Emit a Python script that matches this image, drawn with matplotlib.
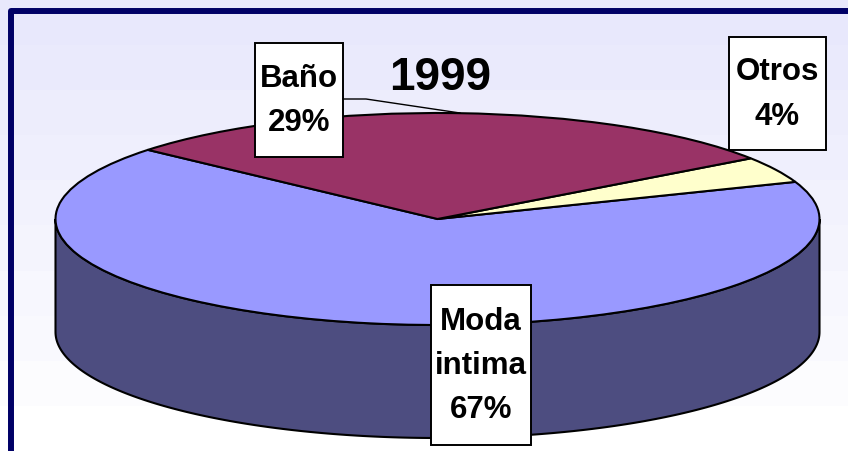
import numpy as np
import matplotlib
matplotlib.use('Agg')
import matplotlib.pyplot as plt
from matplotlib.patches import Rectangle

title = '1999'
labels = ['Moda\nintima\n67%', 'Otros\n4%', 'Baño\n29%']
values = [67, 4, 29]
colors = ['#9999FF', '#FFFFCC', '#993366']

plt.rcParams['font.family'] = ['Liberation Sans', 'DejaVu Sans']

W, H = 848, 451
fig = plt.figure(figsize=(W / 100, H / 100), dpi=100)

# background bands and frame, in pixel coordinates
bg = fig.add_axes([0, 0, 1, 1], zorder=0)
bands = np.linspace(0, 1, 10).reshape(-1, 1)
cmap = matplotlib.colors.LinearSegmentedColormap.from_list('bg', ['#E8E8FC', '#FFFFFF'])
bg.imshow(bands, cmap=cmap, aspect='auto', extent=[0, W, H, 0], interpolation='nearest')
bg.plot([11, 11, W], [H, 11, 11], color='#000066', lw=4.3, solid_joinstyle='round')
bg.set_xlim(0, W)
bg.set_ylim(H, 0)
bg.axis('off')

# pie axes: the unit circle fills the top ellipse of the disc
cx, cy, a, b = 437.5, 219, 382, 106
depth = 113 / b
ax = fig.add_axes([(cx - a) / W, 1 - (cy + b) / H, 2 * a / W, 2 * b / H], zorder=1)
start = 139.3
theta = np.radians(np.linspace(180, 360, 200))
wall_x = np.r_[np.cos(theta), np.cos(theta[::-1])]
wall_y = np.r_[np.sin(theta), np.sin(theta[::-1]) - depth]
ax.fill(wall_x, wall_y, facecolor='#4D4D80', edgecolor='black', lw=1.5, clip_on=False, zorder=0)
wedges, _ = ax.pie(values, colors=colors, startangle=start, radius=1,
                   wedgeprops={'edgecolor': 'black', 'linewidth': 1.5, 'clip_on': False, 'zorder': 1})
ax.set_aspect('auto')
ax.set_xlim(-1, 1)
ax.set_ylim(-1, 1)
ax.axis('off')

# labels on top
top = fig.add_axes([0, 0, 1, 1], zorder=2)
top.patch.set_alpha(0)
top.set_xlim(0, W)
top.set_ylim(H, 0)
top.axis('off')
top.plot([343, 366, 460], [99, 99, 113], color='black', lw=1)
boxes = [(431, 285, 100, 160), (729, 37, 97, 113), (255, 43, 88, 114)]
for lab, (x, y, w, h) in zip(labels, boxes):
    top.add_patch(Rectangle((x, y), w, h, facecolor='white', edgecolor='black', lw=1.4))
    top.text(x + w / 2, y + h / 2 + 1, lab, ha='center', va='center', fontsize=22.5,
             fontweight='bold', linespacing=1.62)
top.text(440, 78, title, ha='center', va='center', fontsize=33, fontweight='bold')

plt.savefig('out.png', dpi=100)
